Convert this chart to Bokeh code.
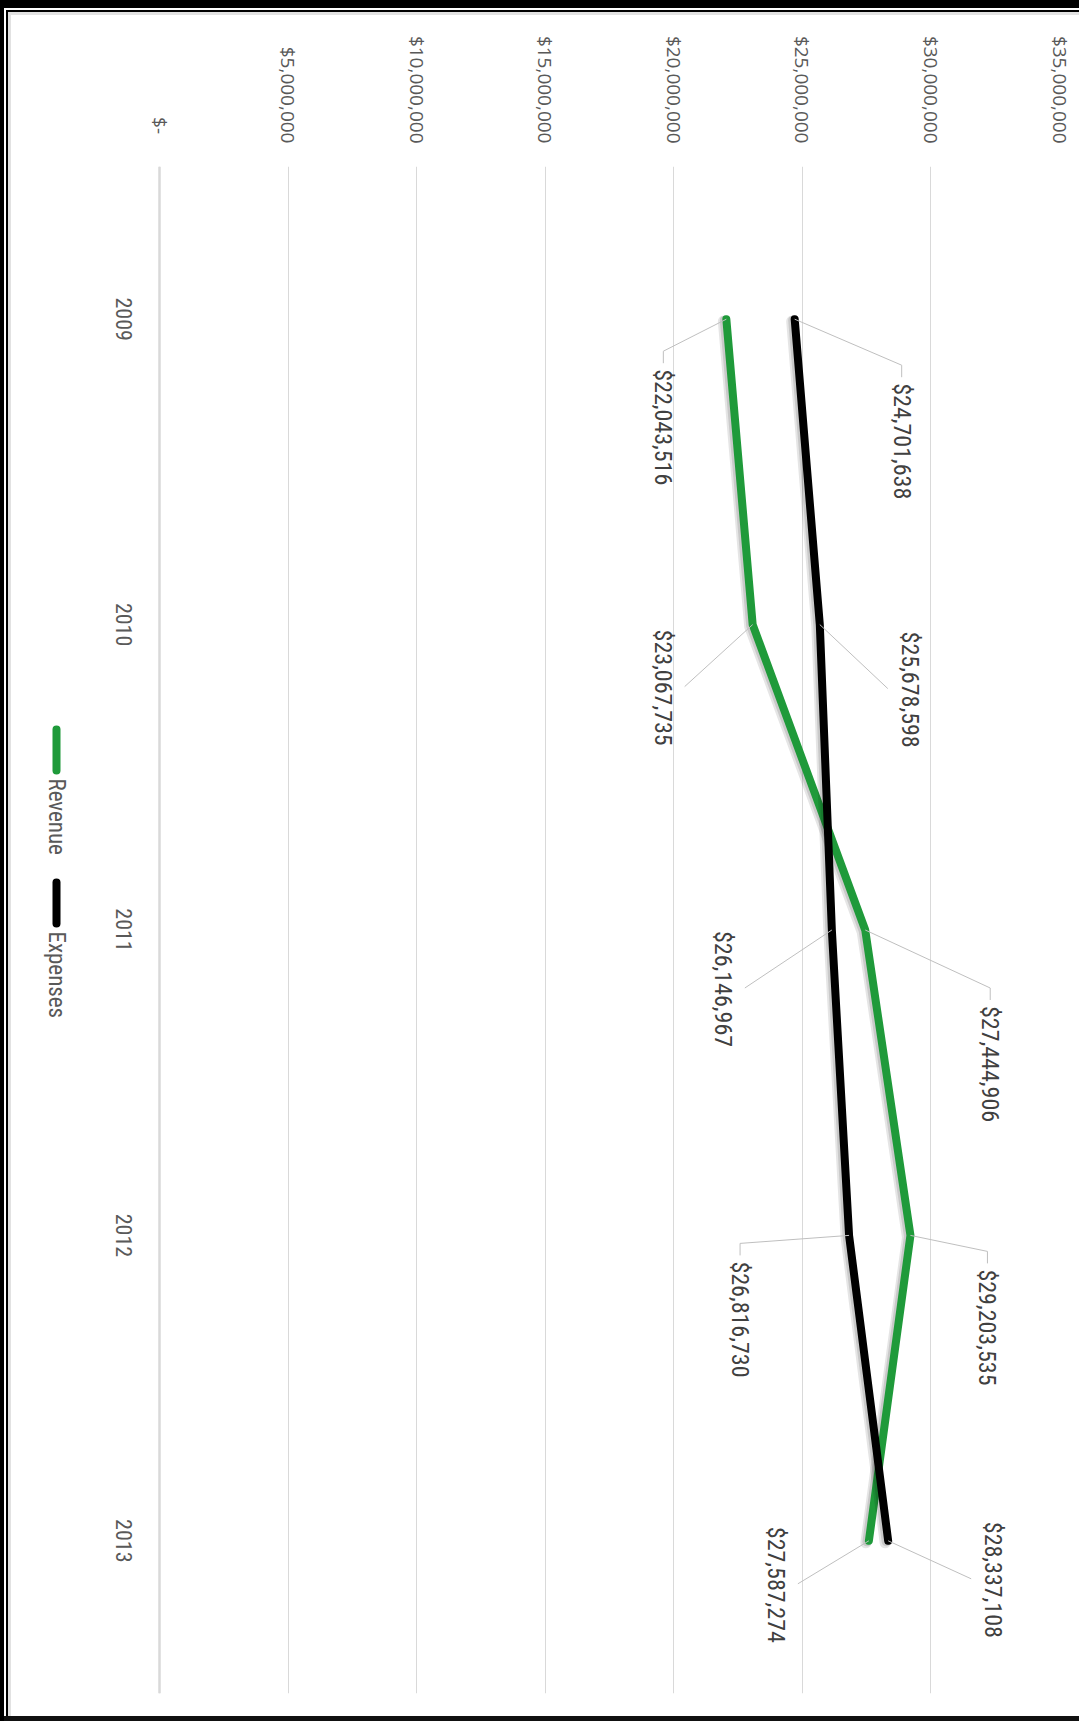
import math
from bokeh.plotting import figure
from bokeh.models import (ColumnDataSource, FactorRange, Range1d, FixedTicker,
                          NumeralTickFormatter, Span)
from bokeh.transform import dodge
from bokeh.core.properties import value
from bokeh.embed import file_html
from bokeh.resources import INLINE

# ---------------- data ----------------
years = ["2009", "2010", "2011", "2012", "2013"]
revenue = [22043516, 23067735, 27444906, 29203535, 27587274]
expenses = [24701638, 25678598, 26146967, 26816730, 28337108]
value_ticks = [0, 5000000, 10000000, 15000000, 20000000, 25000000, 30000000, 35000000]
series_names = ["Revenue", "Expenses"]
series_colors = ["#1f9a3a", "#000000"]

# ---------------- label layout (pixel offsets of label top-centre from its point) -------------
rev_label_dx = [-63, -90, 125, 77, -93]
rev_label_dy = [50, 5, 76, 34, -14]
rev_leader = ["top", "side", "top", "top", "side"]
exp_label_dx = [107, 90, -109, -109, 105]
exp_label_dy = [64, 7, 1, 26, -19]
exp_leader = ["top", "side", "side", "top", "side"]

# ---------------- geometry ----------------
FIG_W, FIG_H = 1079, 1721
AXIS_PX = 159          # px from frame left edge to the $0 line
VALUE_PX = 900         # px from $0 to top tick
B_RIGHT, B_TOP, B_BOTTOM = FIG_W - AXIS_PX - VALUE_PX, 166, 28
FRAME_H = FIG_H - B_TOP - B_BOTTOM
X_MAX = value_ticks[-1]
DPP = X_MAX / VALUE_PX           # dollars per pixel
NCAT = len(years)
CPP = NCAT / FRAME_H             # category units per pixel

NARROW = "Roboto Condensed, DejaVu Sans Condensed, Roboto"
TICK_FONT = "Open Sans"
TEXT_GREY = "#595959"
LABEL_GREY = "#404040"
GRID = "#d9d9d9"

p = figure(width=FIG_W, height=FIG_H, output_backend="svg", toolbar_location=None,
           x_range=Range1d(-AXIS_PX * DPP, X_MAX), y_range=FactorRange(factors=years[::-1]),
           x_axis_location="above", y_axis_location=None,
           min_border_left=0, min_border_right=B_RIGHT,
           min_border_top=B_TOP, min_border_bottom=B_BOTTOM)
p.outline_line_color = None
p.border_fill_color = None
p.background_fill_color = None
p.styles = {"box-shadow": ", ".join([
    "inset 0 8px 0 0 #000", "inset 4px 0 0 0 #000", "inset 0 -5px 0 0 #111",
    "inset 0 10px 0 0 #fff", "inset 6px 0 0 0 #fff",
    "inset 0 12px 0 0 #000", "inset 8px 0 0 0 #000",
    "inset 0 15px 0 0 #e2e2e2", "inset 11px 0 0 0 #e2e2e2"])}

# value axis (top)
xa = p.xaxis[0]
xa.ticker = FixedTicker(ticks=value_ticks)
xa.formatter = NumeralTickFormatter(format="$0,0")
xa.major_label_overrides = {0: "$-\u2002"}
xa.major_label_orientation = -math.pi / 2
xa.major_label_text_font = TICK_FONT
xa.major_label_text_font_size = "19px"
xa.major_label_text_color = TEXT_GREY
xa.major_label_standoff = 17
xa.axis_line_color = None
xa.major_tick_line_color = None
xa.minor_tick_line_color = None
p.xgrid.ticker = FixedTicker(ticks=value_ticks)
p.xgrid.grid_line_color = GRID
p.xgrid.grid_line_width = 1
for g in p.ygrid:
    g.visible = False

# category axis line at $0
p.add_layout(Span(location=0, dimension="height", line_color=GRID, line_width=2.5))

# category labels
year_src = ColumnDataSource(dict(year=years))
p.text(x=0, y="year", text="year", source=year_src, angle=-math.pi / 2,
       x_offset=-36, text_align="center", text_baseline="middle",
       text_font=value(NARROW), text_font_size="22px", text_color=TEXT_GREY)


def leader_path(v, idx, dx, dy, mode):
    s = NCAT - idx - 0.5
    if mode == "top":
        pts = [(dx, dy - 18), (dx, dy - 6)]
    else:
        ex = dx - math.copysign(22, dx)
        pts = [(ex, dy + 57)]
    xs = [v] + [v + ox * DPP for ox, oy in pts]
    ys = [s] + [s - oy * CPP for ox, oy in pts]
    return xs, ys


all_series = [(revenue, rev_label_dx, rev_label_dy, rev_leader),
              (expenses, exp_label_dx, exp_label_dy, exp_leader)]

for (vals, ldx, ldy, lmode), name, color in zip(all_series, series_names, series_colors):
    src = ColumnDataSource(dict(year=years, value=vals))
    # soft shadow
    p.line(x=dodge("value", -3 * DPP, range=p.x_range), y=dodge("year", -2 * CPP, range=p.y_range),
           source=src, line_width=11, line_color="black", line_alpha=0.10,
           line_cap="round", line_join="round")
    p.line(x=dodge("value", -2 * DPP, range=p.x_range), y=dodge("year", -1 * CPP, range=p.y_range),
           source=src, line_width=9, line_color="black", line_alpha=0.12,
           line_cap="round", line_join="round")
    p.line(x="value", y="year", source=src, line_width=8, line_color=color,
           line_cap="round", line_join="round")

for (vals, ldx, ldy, lmode), name, color in zip(all_series, series_names, series_colors):
    lx, ly = [], []
    for i, v in enumerate(vals):
        xs, ys = leader_path(v, i, ldx[i], ldy[i], lmode[i])
        lx.append(xs)
        ly.append(ys)
    p.multi_line(xs=lx, ys=ly, line_color="#bfbfbf", line_width=1)
    src = ColumnDataSource(dict(year=years, value=vals,
                                label=[f"${v:,}" for v in vals], dx=ldx, dy=ldy))
    p.text(x="value", y="year", text="label", source=src, angle=-math.pi / 2,
           x_offset="dx", y_offset="dy", text_align="left", text_baseline="middle",
           text_font=value(NARROW), text_font_size="24px", text_color=LABEL_GREY)

# ---------------- legend (rotated, drawn in the left margin of the frame) ----------------
def px_x(px):      # px relative to the $0 line
    return px * DPP


def px_y(py):      # px below frame top -> synthetic category coordinate
    return NCAT - py * CPP


legend_top = [563, 716]          # swatch start, px below frame top
leg_x0 = [px_x(-103)] * 2
leg_y0 = [px_y(t) for t in legend_top]
leg_y1 = [px_y(t + 41) for t in legend_top]
leg_ty = [px_y(t + 49) for t in legend_top]
p.segment(x0=leg_x0, y0=leg_y0, x1=leg_x0, y1=leg_y1, line_color=series_colors,
          line_width=8, line_cap="round")
p.text(x=leg_x0, y=leg_ty, text=series_names, angle=-math.pi / 2,
       text_align="left", text_baseline="middle",
       text_font=value(NARROW), text_font_size="23px", text_color=TEXT_GREY)

open("out.html", "w").write(file_html(p, INLINE))
